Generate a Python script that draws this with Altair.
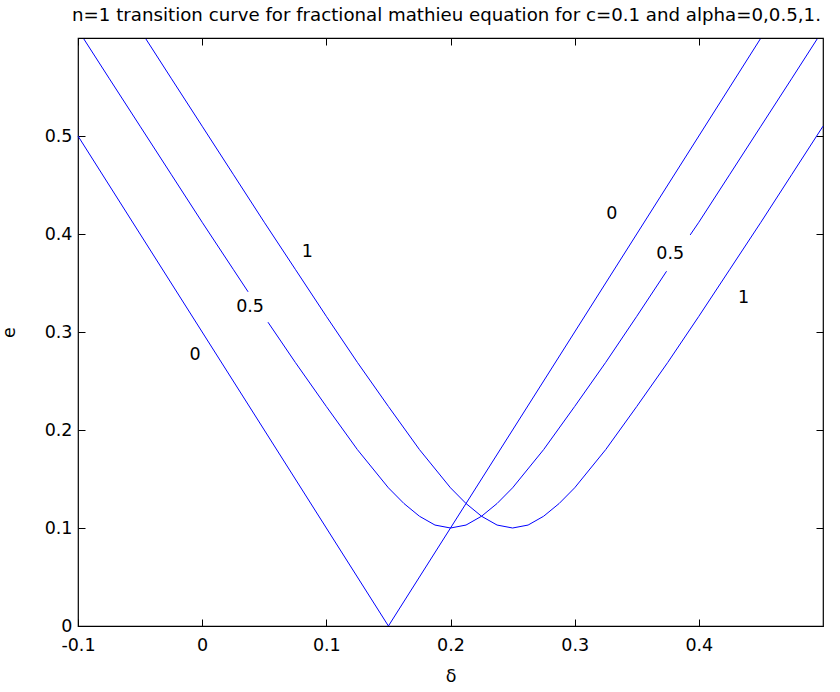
import altair as alt
import pandas as pd

# Transition curves (delta, e) for alpha = 0, 0.5, 1
delta_a0 = [-0.1, 0.15, 0.4495]
e_a0 = [0.5, 0.0, 0.599]

# alpha = 0.5 curve, split where the inline labels sit
delta_a05_s1 = [-0.0953, -0.075, -0.05, -0.025, 0.0, 0.025, 0.037]
e_a05_s1 = [0.599, 0.559, 0.510, 0.461, 0.412, 0.364, 0.341]
delta_a05_s2 = [0.053, 0.075, 0.1, 0.125, 0.15, 0.1625, 0.175, 0.1875, 0.2,
                0.2125, 0.225, 0.2375, 0.25, 0.275, 0.3, 0.325, 0.35, 0.374]
e_a05_s2 = [0.310, 0.269, 0.224, 0.180, 0.141, 0.125, 0.112, 0.103, 0.100,
            0.103, 0.112, 0.125, 0.141, 0.180, 0.224, 0.269, 0.316, 0.362]
delta_a05_s3 = [0.393, 0.4, 0.425, 0.45, 0.475, 0.4953]
e_a05_s3 = [0.399, 0.412, 0.461, 0.510, 0.559, 0.599]

delta_a1 = [-0.0453, -0.025, 0.0, 0.025, 0.05, 0.075, 0.1, 0.125, 0.15, 0.175,
            0.2, 0.2125, 0.225, 0.2375, 0.25, 0.2625, 0.275, 0.2875, 0.3,
            0.325, 0.35, 0.375, 0.4, 0.425, 0.45, 0.475, 0.5]
e_a1 = [0.599, 0.559, 0.510, 0.461, 0.412, 0.364, 0.316, 0.269, 0.224, 0.180,
        0.141, 0.125, 0.112, 0.103, 0.100, 0.103, 0.112, 0.125, 0.141,
        0.180, 0.224, 0.269, 0.316, 0.364, 0.412, 0.461, 0.510]

# Inline contour labels
label_text = ["0", "0.5", "1", "0", "0.5", "1"]
label_delta = [-0.0057, 0.0386, 0.0846, 0.330, 0.377, 0.436]
label_e = [0.2765, 0.3255, 0.3816, 0.420, 0.380, 0.335]

x_ticks = [-0.1, 0.0, 0.1, 0.2, 0.3, 0.4]
y_ticks = [0.0, 0.1, 0.2, 0.3, 0.4, 0.5]

segments = [
    ("a0", delta_a0, e_a0),
    ("a05_1", delta_a05_s1, e_a05_s1),
    ("a05_2", delta_a05_s2, e_a05_s2),
    ("a05_3", delta_a05_s3, e_a05_s3),
    ("a1", delta_a1, e_a1),
]
rows = []
for seg, ds, es in segments:
    for i, (d, e) in enumerate(zip(ds, es)):
        rows.append({"seg": seg, "order": i, "delta": d, "e": e})
curves = pd.DataFrame(rows)
labels = pd.DataFrame({"text": label_text, "delta": label_delta, "e": label_e})

FONT = "DejaVu Sans"
FS = 17.5
TICK = 7
# plain hyphen for negative tick labels
HYPHEN = "replace(format(datum.value, '~g'), '\u2212', '-')"

xscale = alt.Scale(domain=[-0.1, 0.5], nice=False, zero=False)
yscale = alt.Scale(domain=[0, 0.6], nice=False, zero=False)

label_x_axis = alt.Axis(values=x_ticks, labelExpr=HYPHEN, ticks=False, domain=False,
                        grid=False, labelFont=FONT, labelFontSize=FS, labelColor="black",
                        labelPadding=10, title="δ", titleFont=FONT, titleFontSize=FS,
                        titleFontWeight="normal", titleColor="black", titlePadding=14,
                        labelFlush=False)
label_y_axis = alt.Axis(values=y_ticks, labelExpr=HYPHEN, ticks=False, domain=False,
                        grid=False, labelFont=FONT, labelFontSize=FS, labelColor="black",
                        labelPadding=6, title="e", titleFont=FONT, titleFontSize=FS,
                        titleFontWeight="normal", titleColor="black", titlePadding=26,
                        labelFlush=False)


def tick_axis(values, orient):
    return alt.Axis(values=values, orient=orient, labels=False, domain=False, grid=False,
                    ticks=True, tickSize=TICK, tickColor="black", tickWidth=1,
                    offset=-TICK, title=None)


lines = alt.Chart(curves).mark_line(color="#0000ff", strokeWidth=1).encode(
    x=alt.X("delta:Q", scale=xscale, axis=label_x_axis),
    y=alt.Y("e:Q", scale=yscale, axis=label_y_axis),
    detail="seg:N",
    order="order:Q",
)

ticks_bl = alt.Chart(labels).mark_point(opacity=0).encode(
    x=alt.X("delta:Q", scale=xscale, axis=tick_axis(x_ticks, "bottom")),
    y=alt.Y("e:Q", scale=yscale, axis=tick_axis(y_ticks, "left")),
)
ticks_tr = alt.Chart(labels).mark_point(opacity=0).encode(
    x=alt.X("delta:Q", scale=xscale, axis=tick_axis(x_ticks, "top")),
    y=alt.Y("e:Q", scale=yscale, axis=tick_axis(y_ticks, "right")),
)

text = alt.Chart(labels).mark_text(font=FONT, fontSize=FS, color="black",
                                   align="center", baseline="middle").encode(
    x=alt.X("delta:Q", scale=xscale, axis=None),
    y=alt.Y("e:Q", scale=yscale, axis=None),
    text="text:N",
)

chart = alt.layer(lines, ticks_bl, ticks_tr, text).resolve_axis(
    x="independent", y="independent"
).properties(
    width=745,
    height=588,
    autosize=alt.AutoSizeParams(type="none"),
    padding={"left": 78, "top": 38, "right": 17, "bottom": 66},
    title=alt.TitleParams(
        "n=1 transition curve for fractional mathieu equation for c=0.1 and alpha=0,0.5,1.",
        font=FONT, fontSize=18.2, fontWeight="normal", color="black",
        anchor="middle", offset=12, dx=-4,
    ),
).configure(
    background="white",
    view=alt.ViewConfig(stroke="black", strokeWidth=1.2),
)

chart.save("out.html", embed_options={"renderer": "svg", "actions": False})
